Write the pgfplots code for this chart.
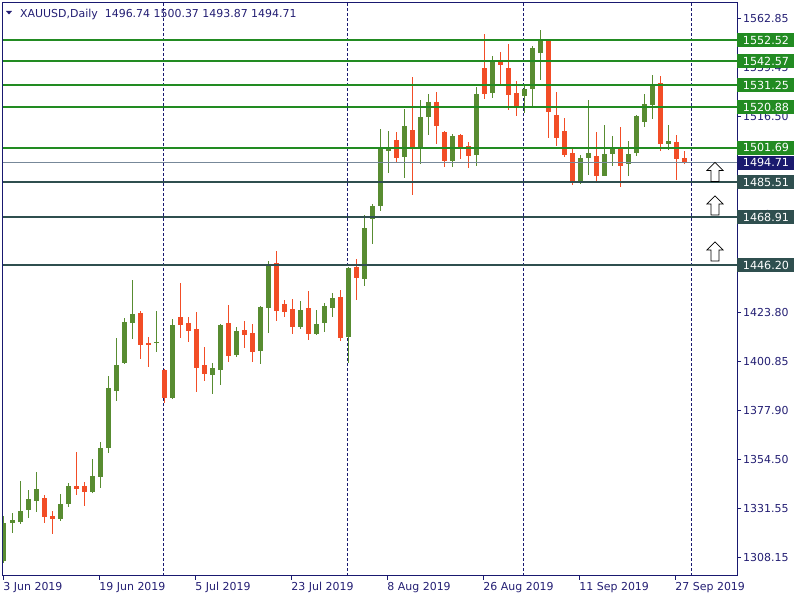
\documentclass[border=0pt]{standalone}
\usepackage{fontspec}
\setmainfont{DejaVu Sans}
\usepackage{pgfplots}
\usepackage{pgfplotstable}
\pgfplotsset{compat=1.18}

\definecolor{mtnavy}{RGB}{25,25,112}
\definecolor{mttext}{RGB}{35,30,115}
\definecolor{bull}{RGB}{88,140,49}
\definecolor{bear}{RGB}{242,77,38}
\definecolor{lvgreen}{RGB}{34,139,34}
\definecolor{lvdark}{RGB}{47,79,79}
\definecolor{bidgray}{RGB}{119,136,153}
\definecolor{bidbox}{RGB}{26,26,110}

% hollow up arrow, anchored at its bottom centre
\pgfdeclareplotmark{hollowup}{%
  \pgfpathmoveto{\pgfpoint{-4bp}{0bp}}%
  \pgfpathlineto{\pgfpoint{4bp}{0bp}}%
  \pgfpathlineto{\pgfpoint{4bp}{11bp}}%
  \pgfpathlineto{\pgfpoint{8bp}{11bp}}%
  \pgfpathlineto{\pgfpoint{0bp}{19bp}}%
  \pgfpathlineto{\pgfpoint{-8bp}{11bp}}%
  \pgfpathlineto{\pgfpoint{-4bp}{11bp}}%
  \pgfpathclose
  \pgfusepathqfillstroke}
% empty mark, so that only the error bars (wicks and bodies) show
\pgfdeclareplotmark{nothing}{}

% daily candles, i = trading day from 3 Jun 2019
\pgfplotstableread{
i o h l c
0 1306.77 1327.86 1305.83 1324.40
1 1324.72 1329.28 1319.99 1325.97
2 1325.19 1344.39 1324.09 1330.22
3 1330.85 1340.14 1327.08 1335.89
4 1335.10 1348.64 1329.91 1340.61
7 1326.60 1338.25 1325.66 1333.53
8 1333.69 1343.29 1332.27 1342.03
11 1339.35 1354.78 1338.57 1346.75
12 1346.43 1362.80 1341.24 1359.97
13 1360.13 1393.96 1357.77 1388.30
14 1387.04 1411.90 1382.32 1399.16
15 1400.26 1421.35 1399.63 1419.46
16 1419.14 1439.29 1411.43 1423.24
19 1409.70 1424.65 1405.45 1410.17
21 1383.58 1420.88 1383.10 1418.04
26 1394.59 1400.10 1385.62 1397.74
27 1396.95 1418.51 1389.87 1418.04
29 1404.04 1417.10 1403.09 1415.21
32 1405.92 1427.01 1399.79 1426.54
33 1426.23 1448.26 1414.42 1446.20
37 1417.26 1429.38 1416.32 1425.13
39 1413.96 1425.13 1413.48 1418.52
40 1419.15 1428.44 1414.90 1427.02
41 1426.23 1433.16 1421.98 1430.80
43 1412.54 1445.59 1400.00 1444.96
45 1439.92 1469.98 1436.62 1463.85
46 1468.10 1475.33 1456.45 1474.23
47 1474.37 1510.59 1472.03 1502.25
48 1500.36 1509.64 1489.97 1501.14
50 1497.52 1520.03 1487.61 1512.00
52 1502.09 1524.28 1494.22 1516.25
53 1516.41 1527.11 1507.91 1523.33
56 1495.64 1508.23 1492.80 1507.28
59 1498.47 1530.42 1493.28 1527.11
61 1527.74 1545.05 1525.38 1542.85
65 1526.32 1531.36 1518.30 1529.47
66 1529.63 1549.77 1521.45 1548.83
67 1546.63 1557.33 1533.72 1552.92
72 1485.56 1498.31 1484.62 1496.89
73 1497.05 1524.28 1489.03 1499.26
75 1488.55 1512.48 1488.55 1498.78
76 1498.94 1507.28 1493.28 1502.09
78 1494.22 1504.92 1488.55 1498.78
79 1499.41 1517.20 1498.00 1516.72
80 1514.05 1527.11 1511.69 1522.39
81 1522.08 1536.08 1515.31 1531.52
83 1503.66 1512.48 1500.83 1504.76
}\bulltab

\pgfplotstableread{
i o h l c
5 1336.36 1337.78 1324.72 1327.55
6 1327.86 1330.22 1319.37 1326.60
9 1342.03 1358.08 1337.94 1340.77
10 1342.03 1343.92 1332.74 1339.35
17 1423.71 1424.65 1401.99 1408.76
18 1409.54 1412.38 1398.37 1408.76
20 1396.80 1397.43 1381.37 1383.73
22 1421.82 1437.87 1412.06 1418.04
23 1418.99 1421.82 1410.17 1415.21
24 1416.15 1424.18 1386.57 1397.90
25 1399.16 1407.66 1391.76 1395.06
28 1418.99 1427.49 1400.73 1403.56
30 1415.68 1419.93 1407.34 1413.32
31 1414.27 1418.51 1400.73 1405.45
34 1447.32 1452.99 1420.09 1424.82
35 1427.81 1429.85 1421.98 1424.34
36 1425.60 1430.32 1413.96 1417.26
38 1426.07 1434.10 1411.12 1413.96
42 1431.27 1434.57 1410.65 1412.07
44 1445.43 1449.21 1430.01 1440.40
49 1505.39 1509.17 1494.69 1497.05
51 1510.11 1535.14 1479.58 1501.30
54 1523.33 1528.06 1503.66 1512.16
55 1509.17 1509.50 1492.80 1495.64
57 1507.75 1508.23 1496.58 1502.09
58 1502.56 1504.45 1492.33 1498.00
60 1539.39 1555.44 1524.91 1527.27
62 1542.85 1546.94 1531.99 1540.96
63 1539.39 1550.72 1519.71 1526.80
64 1527.58 1533.25 1516.88 1520.66
68 1552.61 1553.00 1506.49 1518.77
69 1517.20 1528.06 1502.56 1506.49
70 1509.64 1515.78 1497.52 1498.31
71 1499.26 1501.14 1484.15 1485.56
74 1497.84 1509.17 1485.56 1488.55
77 1502.09 1511.53 1483.36 1493.28
82 1532.31 1535.61 1500.36 1503.66
84 1504.45 1507.75 1486.67 1496.58
85 1496.74 1500.37 1493.87 1494.71
}\beartab

\begin{document}
\begin{tikzpicture}
\begin{axis}[
  name=ax,
  scale only axis, width=734bp, height=573bp,
  xmin=-0.125, xmax=91.625, ymin=1299.54, ymax=1570.07,
  clip mode=individual,
  axis line style={mtnavy, line width=1bp},
  tick style={mtnavy, line width=1bp},
  tick align=outside, major tick length=4bp,
  xtick pos=left, ytick pos=right, yticklabel pos=right,
  /pgf/number format/assume math mode=true,
  tick label style={font=\fontsize{11}{13}\selectfont, text=mttext},
  xtick={-0.09,11.91,23.91,35.91,47.91,59.91,71.91,83.91},
  xticklabels={3 Jun 2019,19 Jun 2019,5 Jul 2019,23 Jul 2019,8 Aug 2019,26 Aug 2019,11 Sep 2019,27 Sep 2019},
  xticklabel style={anchor=north west, inner sep=0pt, yshift=-2bp},
  ytick={1308.15,1331.55,1354.50,1377.90,1400.85,1423.80,1446.75,1470.15,1493.55,1516.50,1539.45,1562.85},
  yticklabels={1308.15,1331.55,1354.50,1377.90,1400.85,1423.80,1446.75,1470.15,1493.55,1516.50,1539.45,1562.85},
  yticklabel style={anchor=west, inner sep=0pt, xshift=2bp},
  candle/.style={only marks, mark=nothing, error bars/.cd, y dir=plus, y explicit, error mark=none},
]
% month separators
\addplot[mtnavy, line width=1.1bp, dash pattern=on 3bp off 2bp] coordinates {(19.91,1290) (19.91,1580)};
\addplot[mtnavy, line width=1.1bp, dash pattern=on 3bp off 2bp] coordinates {(42.91,1290) (42.91,1580)};
\addplot[mtnavy, line width=1.1bp, dash pattern=on 3bp off 2bp] coordinates {(64.91,1290) (64.91,1580)};
\addplot[mtnavy, line width=1.1bp, dash pattern=on 3bp off 2bp] coordinates {(85.91,1290) (85.91,1580)};

% wicks
\addplot[bull, candle, error bar style={line width=1bp, bull}]
  table[x=i, y=l, y error expr={\thisrow{h}-\thisrow{l}}] {\bulltab};
\addplot[bear, candle, error bar style={line width=1bp, bear}]
  table[x=i, y=l, y error expr={\thisrow{h}-\thisrow{l}}] {\beartab};
% bodies
\addplot[bull, candle, error bar style={line width=5bp, bull}]
  table[x=i, y=o, y error expr={max(\thisrow{c}-\thisrow{o},0.5)}] {\bulltab};
\addplot[bear, candle, error bar style={line width=5bp, bear}]
  table[x=i, y=c, y error expr={max(\thisrow{o}-\thisrow{c},0.5)}] {\beartab};

% levels
\addplot[lvgreen, line width=2bp] coordinates {(-0.125,1552.52) (91.625,1552.52)};
\addplot[lvgreen, line width=2bp] coordinates {(-0.125,1542.57) (91.625,1542.57)};
\addplot[lvgreen, line width=2bp] coordinates {(-0.125,1531.25) (91.625,1531.25)};
\addplot[lvgreen, line width=2bp] coordinates {(-0.125,1520.88) (91.625,1520.88)};
\addplot[lvgreen, line width=2bp] coordinates {(-0.125,1501.69) (91.625,1501.69)};
\addplot[lvdark, line width=2bp] coordinates {(-0.125,1485.51) (91.625,1485.51)};
\addplot[lvdark, line width=2bp] coordinates {(-0.125,1468.91) (91.625,1468.91)};
\addplot[lvdark, line width=2bp] coordinates {(-0.125,1446.20) (91.625,1446.20)};
\addplot[bidgray, line width=0.9bp] coordinates {(-0.125,1494.71) (91.625,1494.71)};

% buy arrows
\addplot[only marks, mark=hollowup, mark options={fill=white, draw=black, line width=0.7bp}]
  coordinates {(88.875,1485.8) (88.875,1470.0) (88.875,1448.3)};

% price boxes on the scale
\foreach \v/\col in {1552.52/lvgreen,1542.57/lvgreen,1531.25/lvgreen,1520.88/lvgreen,1501.69/lvgreen,1485.51/lvdark,1468.91/lvdark,1446.20/lvdark,1494.71/bidbox}{
  \edef\temp{\noexpand\node[fill=\col, text=white, anchor=west, minimum width=57bp, minimum height=14bp, inner sep=0pt,
    font=\noexpand\fontsize{11.2}{13}\noexpand\selectfont] at (axis cs:91.66,\v) {\v};}
  \temp
}

% header
\node[anchor=base west, inner sep=0pt, text=mttext, font=\fontsize{11}{13}\selectfont]
  at ([shift={(17bp,-14.3bp)}]rel axis cs:0,1) {XAUUSD,Daily\hspace{7bp}1496.74 1500.37 1493.87 1494.71};
\end{axis}
\fill[mttext] ([shift={(3bp,-8bp)}]ax.north west) -- ++(6bp,0) -- ++(-3bp,-3.5bp) -- cycle;
\pgfresetboundingbox
\path ([shift={(-3bp,-24bp)}]ax.south west) rectangle ([shift={(63bp,3bp)}]ax.north east);
\end{tikzpicture}
\end{document}
